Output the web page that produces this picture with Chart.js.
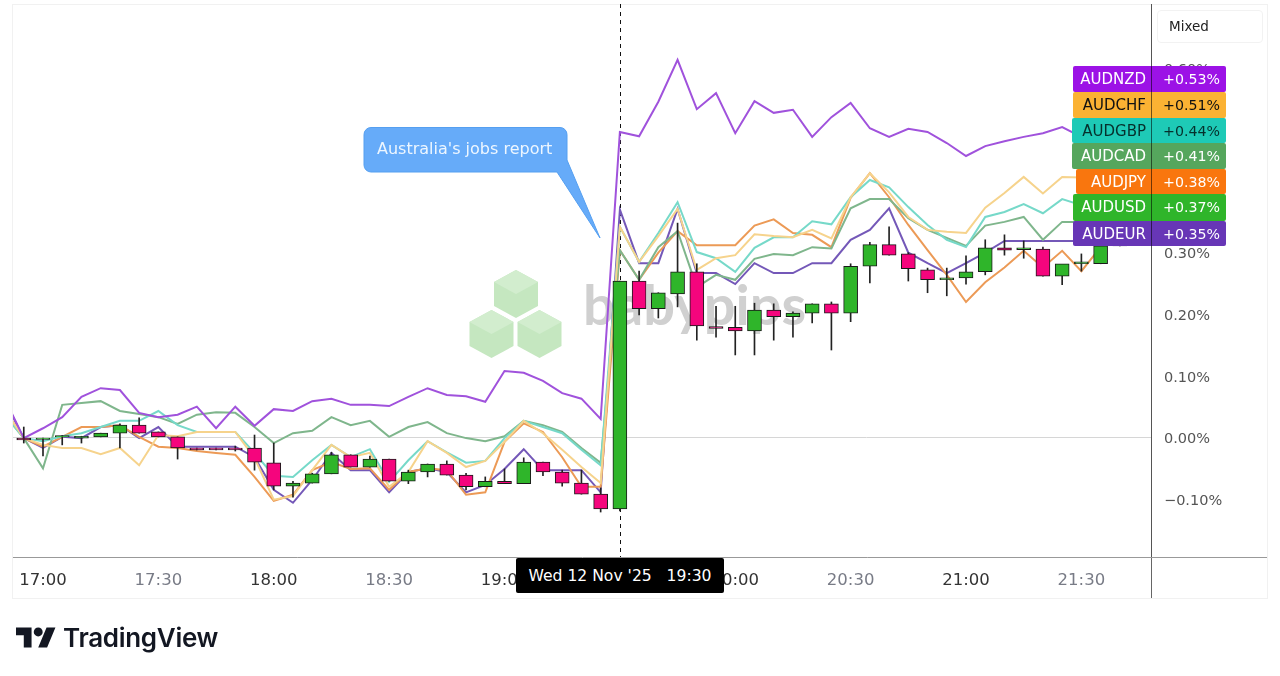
<!DOCTYPE html>
<html>
<head>
<meta charset="utf-8">
<title>AUD pairs</title>
<script src="https://cdn.jsdelivr.net/npm/chart.js@4"></script>
<style>
html,body{margin:0;padding:0;background:#fff;width:1280px;height:676px;overflow:hidden;font-family:"DejaVu Sans",sans-serif}
.abs{position:absolute}
#frame{left:12px;top:4px;width:1254px;height:593px;border:1px solid #f1f1f1}
#grafico{position:absolute;left:0;top:0}
#marca{left:583px;top:269px;font:700 56px Lato,sans-serif;color:#d0d0d0;line-height:70px}
#mixed{left:1157px;top:10px;width:93px;height:31px;border:1px solid #f2f2f2;border-radius:4px;padding-left:11px;line-height:31px;font-size:13.5px;color:#222}
#linhaEixoV{left:1151px;top:557px;width:1px;height:41px;background:#666}
#linhaEixoH{left:1151px;top:557px;width:116px;height:1px;background:#999}
#balao{left:377px;top:139px;font-size:16px;color:#edf6ff;white-space:nowrap}
#tag{left:516px;top:558px;width:208px;height:35px;background:#000;border-radius:2px;color:#fff;font-size:15.6px;line-height:37px;text-align:center;white-space:pre}
.rotulo{position:absolute;height:26px;line-height:26px;font-size:15px;border-radius:2px}
.rotulo span{position:absolute;top:0;white-space:nowrap}
.rotulo span+span{font-size:14.2px}
#divisor{left:1151px;top:66px;width:1px;height:180px;background:rgba(0,0,0,.55)}
#logo{left:16px;top:627px}
#logoTexto{left:63px;top:620px;font:600 26px Inter,sans-serif;color:#131722;letter-spacing:-.3px;line-height:36px}
</style>
</head>
<body>
<div class="abs" id="frame"></div>
<svg class="abs" style="left:0;top:0" width="1280" height="400">
<g id="cubos"></g>
</svg>
<div class="abs" id="marca">babypips</div>
<canvas id="grafico" width="1280" height="676" style="width:1280px;height:676px"></canvas>
<div class="abs" id="linhaEixoV"></div>
<div class="abs" id="linhaEixoH"></div>
<svg class="abs" style="left:0;top:0" width="1280" height="300">
<path d="M371 127.5H560a7 7 0 0 1 7 7V160L600 238L557 172H371a7 7 0 0 1-7-7V134.5a7 7 0 0 1 7-7Z" fill="#66abf9" stroke="#559ff0"/>
</svg>
<div class="abs" id="balao">Australia's jobs report</div>
<div class="abs" id="mixed">Mixed</div>
<div id="rotulos"></div>
<div class="abs" id="divisor"></div>
<div class="abs" id="tag">Wed 12 Nov '25   19:30</div>
<svg class="abs" id="logo" width="40" height="21" viewBox="0 4 36 18"><path d="M14 22H7V11H0V4h14v18zM28 22h-8l7.5-18h8L28 22z" fill="#131722"/><circle cx="20" cy="8" r="4" fill="#131722"/></svg>
<div class="abs" id="logoTexto">TradingView</div>

<script>
// minutes counted from 17:00, one point every 5 min
const minutos = [-10,-5,0,5,10,15,20,25,30,35,40,45,50,55,60,65,70,75,80,85,90,95,100,105,110,115,120,125,130,135,140,145,150,155,160,165,170,175,180,185,190,195,200,205,210,215,220,225,230,235,240,245,250,255,260,265,270,275,280];

const audnzd = [0.064,-0.001,0.015,0.033,0.066,0.080,0.077,0.040,0.033,0.037,0.050,0.015,0.050,0.019,0.046,0.043,0.059,0.063,0.053,0.053,0.051,0.066,0.080,0.069,0.067,0.058,0.108,0.105,0.092,0.072,0.063,0.030,0.496,0.489,0.545,0.613,0.533,0.559,0.494,0.546,0.527,0.532,0.488,0.520,0.543,0.502,0.488,0.501,0.496,0.478,0.457,0.473,0.481,0.488,0.494,0.504,0.488,0.507,0.530];
const audchf = [0.045,-0.001,-0.012,-0.017,-0.017,-0.027,-0.017,-0.045,0.004,0.002,0.009,0.009,0.009,-0.033,-0.101,-0.095,-0.053,-0.012,-0.032,-0.025,-0.080,-0.056,-0.006,-0.025,-0.048,-0.038,-0.007,0.027,0.007,-0.020,-0.048,-0.074,0.342,0.285,0.327,0.371,0.272,0.291,0.296,0.330,0.327,0.325,0.337,0.323,0.390,0.429,0.398,0.358,0.337,0.334,0.332,0.373,0.397,0.423,0.396,0.423,0.422,0.442,0.510];
const audgbp = [0.037,-0.001,-0.006,0.002,0.007,0.017,0.027,0.027,0.043,0.020,0.009,0.009,0.009,-0.025,-0.062,-0.064,-0.037,-0.012,-0.032,-0.019,-0.072,-0.037,-0.006,-0.024,-0.041,-0.038,-0.001,0.027,0.017,0.007,-0.020,-0.045,0.342,0.285,0.332,0.382,0.301,0.291,0.269,0.308,0.325,0.325,0.351,0.346,0.390,0.418,0.406,0.374,0.345,0.321,0.309,0.358,0.366,0.379,0.364,0.387,0.377,0.402,0.439];
const audcad = [0.037,-0.001,-0.050,0.053,0.056,0.059,0.043,0.038,0.033,0.022,0.037,0.041,0.040,0.017,-0.009,0.007,0.011,0.033,0.020,0.027,0.001,0.017,0.025,0.007,-0.001,-0.006,0.002,0.027,0.020,0.009,-0.017,-0.041,0.304,0.256,0.309,0.335,0.244,0.264,0.256,0.290,0.298,0.296,0.309,0.307,0.372,0.387,0.387,0.356,0.337,0.324,0.311,0.344,0.350,0.358,0.321,0.350,0.350,0.369,0.410];
const audjpy = [0.045,-0.001,-0.015,0.001,0.017,0.017,0.020,0.001,-0.015,-0.017,-0.022,-0.025,-0.028,-0.064,-0.103,-0.093,-0.053,-0.040,-0.051,-0.050,-0.085,-0.056,-0.050,-0.053,-0.093,-0.089,-0.007,0.023,0.009,-0.032,-0.080,-0.080,0.304,0.256,0.300,0.335,0.312,0.312,0.312,0.344,0.354,0.332,0.329,0.309,0.389,0.429,0.390,0.345,0.304,0.264,0.220,0.252,0.276,0.303,0.276,0.303,0.270,0.309,0.379];
const audeur = [0.060,-0.001,-0.017,0.001,-0.001,0.017,0.020,-0.001,0.017,-0.015,-0.015,-0.015,-0.015,-0.032,-0.085,-0.106,-0.069,-0.025,-0.053,-0.053,-0.089,-0.056,-0.050,-0.056,-0.089,-0.077,-0.051,-0.019,-0.053,-0.053,-0.053,-0.089,0.370,0.283,0.283,0.371,0.267,0.267,0.249,0.283,0.267,0.267,0.283,0.283,0.321,0.337,0.372,0.300,0.283,0.267,0.283,0.300,0.319,0.319,0.319,0.319,0.319,0.319,0.350];

// AUDUSD candles, from 16:55 on
const abertura = [-0.001,-0.003,0.000,-0.001,0.001,0.007,0.020,0.009,0.001,-0.017,-0.017,-0.017,-0.017,-0.041,-0.079,-0.074,-0.059,-0.028,-0.048,-0.035,-0.071,-0.056,-0.043,-0.061,-0.080,-0.071,-0.075,-0.040,-0.056,-0.074,-0.092,-0.116,0.254,0.209,0.233,0.269,0.180,0.179,0.173,0.207,0.196,0.202,0.217,0.202,0.278,0.313,0.298,0.272,0.256,0.259,0.269,0.308,0.305,0.306,0.262,0.282,0.282,0.311];
const maximas = [0.017,0.000,0.003,0.002,0.007,0.022,0.032,0.009,0.001,-0.017,-0.017,-0.014,0.004,-0.009,-0.071,-0.058,-0.024,-0.028,-0.030,-0.035,-0.053,-0.043,-0.038,-0.058,-0.064,-0.051,-0.033,-0.040,-0.053,-0.053,-0.082,0.254,0.270,0.235,0.348,0.282,0.213,0.213,0.218,0.217,0.204,0.217,0.220,0.282,0.317,0.342,0.300,0.275,0.275,0.295,0.321,0.329,0.319,0.309,0.262,0.298,0.311,0.314];
const minimas = [-0.009,-0.030,-0.012,-0.009,0.001,-0.017,0.007,0.001,-0.035,-0.020,-0.020,-0.022,-0.053,-0.085,-0.097,-0.074,-0.059,-0.048,-0.048,-0.071,-0.075,-0.064,-0.061,-0.085,-0.080,-0.075,-0.075,-0.062,-0.079,-0.092,-0.121,-0.119,0.199,0.194,0.212,0.158,0.163,0.134,0.134,0.158,0.163,0.186,0.142,0.188,0.251,0.296,0.254,0.235,0.230,0.249,0.264,0.296,0.291,0.262,0.248,0.270,0.282,0.311];
const fechamento = [-0.004,0.000,0.003,0.002,0.007,0.020,0.007,0.001,-0.017,-0.020,-0.020,-0.020,-0.040,-0.079,-0.074,-0.059,-0.028,-0.048,-0.035,-0.071,-0.056,-0.043,-0.061,-0.080,-0.071,-0.075,-0.040,-0.056,-0.074,-0.092,-0.116,0.254,0.209,0.235,0.269,0.181,0.177,0.173,0.207,0.196,0.202,0.217,0.202,0.278,0.313,0.296,0.274,0.256,0.259,0.269,0.308,0.304,0.308,0.262,0.282,0.285,0.311,0.314];

const ticksX = [0,30,60,90,120,150,180,210,240,270];
const ticksXTexto = ["17:00","17:30","18:00","18:30","19:00","19:30","20:00","20:30","21:00","21:30"];
const ticksY = [-0.1,0,0.1,0.2,0.3,0.4,0.5,0.6];
const minutoCursor = 150;

const simbolos = ["AUDNZD","AUDCHF","AUDGBP","AUDCAD","AUDJPY","AUDUSD","AUDEUR"];
const variacoes = ["+0.53%","+0.51%","+0.44%","+0.41%","+0.38%","+0.37%","+0.35%"];
const coresRotulo = ["#9c12e6","#fbb233","#1ecab6","#55a65d","#f9760e","#2fb52a","#6736b6"];
const coresTexto = ["#fff","#111","#06302c","#fff","#fff","#fff","#fff"];

const candleMinutos = minutos.slice(1);

function linha(nome, valores, cor){
return {
type:"line",
label:nome,
data:valores.map((v,i)=>({x:minutos[i],y:v})),
borderColor:cor,
borderWidth:2,
pointRadius:0,
tension:0,
order:3
};
}

const cursor = {
id:"cursor",
beforeDatasetsDraw(chart){
const ctx = chart.ctx;
const x = Math.round(chart.scales.x.getPixelForValue(minutoCursor)) + 0.5;
ctx.save();
ctx.strokeStyle = "#111";
ctx.lineWidth = 1;
ctx.setLineDash([4,4]);
ctx.beginPath();
ctx.moveTo(x,chart.chartArea.top);
ctx.lineTo(x,chart.chartArea.bottom);
ctx.stroke();
ctx.restore();
}
};

Chart.defaults.font.family = '"DejaVu Sans", sans-serif';

new Chart(document.getElementById("grafico"),{
data:{
datasets:[
linha("AUDNZD",audnzd,"#a052dc"),
linha("AUDCHF",audchf,"#f6d38c"),
linha("AUDGBP",audgbp,"#76d9c9"),
linha("AUDCAD",audcad,"#7fb68c"),
linha("AUDJPY",audjpy,"#ec9a56"),
linha("AUDEUR",audeur,"#7458b8"),
{
type:"bar",
label:"pavio",
data:candleMinutos.map((m,i)=>({x:m,y:[minimas[i],maximas[i]]})),
backgroundColor:"#222",
barThickness:1,
grouped:false,
order:2
},
{
type:"bar",
label:"AUDUSD",
data:candleMinutos.map((m,i)=>({x:m,y:[abertura[i],fechamento[i]]})),
backgroundColor:candleMinutos.map((m,i)=>fechamento[i]>=abertura[i]?"#2fb52a":"#f5057d"),
borderColor:"#1a1a1a",
borderWidth:1,
borderSkipped:false,
barThickness:14,
grouped:false,
order:1
}
]
},
options:{
responsive:false,
animation:false,
events:[],
layout:{padding:{left:13,right:13,top:4,bottom:78}},
plugins:{legend:{display:false},tooltip:{enabled:false}},
scales:{
x:{
type:"linear",
offset:false,
min:-7.8,
max:288.1,
afterBuildTicks:s=>{s.ticks = ticksX.map(v=>({value:v}));},
afterFit:s=>{s.height = 41;s.paddingLeft = 0;s.paddingRight = 0;},
grid:{display:false},
border:{color:"#999"},
ticks:{
autoSkip:false,
maxRotation:0,
padding:6,
font:{size:16.5},
color:c=>c.tick && c.tick.value%60===0?"#333":"#787b86",
callback:v=>ticksXTexto[ticksX.indexOf(v)]
}
},
y:{
position:"right",
min:-0.194,
max:0.7037,
afterBuildTicks:s=>{s.ticks = ticksY.map(v=>({value:v}));},
afterFit:s=>{s.width = 116;s.paddingTop = 0;s.paddingBottom = 0;},
grid:{color:c=>c.tick && c.tick.value===0?"#d6d6d6":"transparent",drawTicks:false},
border:{color:"#555"},
ticks:{
padding:13,
labelOffset:2,
font:{size:14.5},
color:"#555",
callback:v=>(v<0?"\u2212":"")+Math.abs(v).toFixed(2)+"%"
}
}
}
},
plugins:[cursor]
});

// price labels stacked over the right axis
const rotulos = document.getElementById("rotulos");
const topos = [66,92,118,143,169,194,221];
const alturas = [26,26,25,26,25,27,25];
const esquerdas = [1073,1073,1072,1072,1076,1073,1073];
simbolos.forEach((s,i)=>{
const d = document.createElement("div");
d.className = "rotulo";
d.style.cssText = `left:${esquerdas[i]}px;top:${topos[i]}px;width:${1226-esquerdas[i]}px;height:${alturas[i]}px;background:${coresRotulo[i]};color:${coresTexto[i]}`;
d.innerHTML = `<span style="right:${1226-1146}px">${s}</span><span style="right:6px">${variacoes[i]}</span>`;
rotulos.appendChild(d);
});

// babypips watermark cubes
const cubos = document.getElementById("cubos");
[[516,294],[491.5,334],[539.5,334]].forEach(c=>{
const [x,y] = c;
cubos.innerHTML += `<polygon points="${x},${y-24} ${x+22},${y-12} ${x+22},${y+12} ${x},${y+24} ${x-22},${y+12} ${x-22},${y-12}" fill="#c5e7c0"/>`
+ `<polygon points="${x},${y-24} ${x+22},${y-12} ${x},${y} ${x-22},${y-12}" fill="#d2edce"/>`;
});
</script>
</body>
</html>
